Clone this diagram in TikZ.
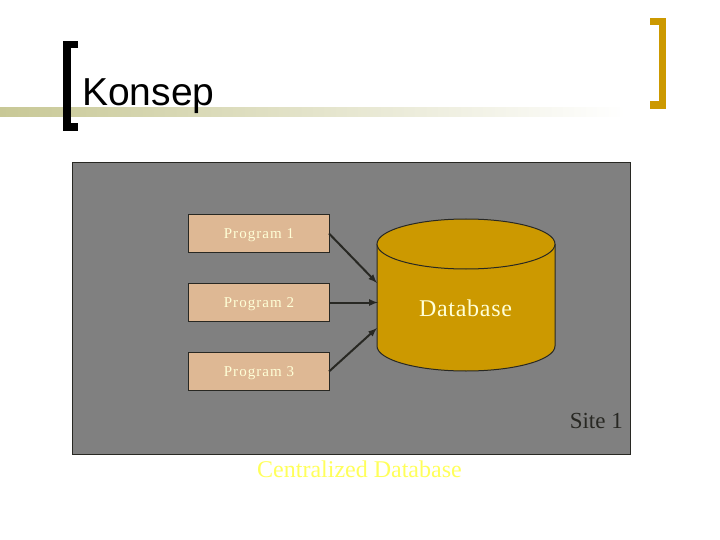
\documentclass[tikz,border=0pt]{standalone}
\usepackage{fontspec}
\setmainfont{Liberation Serif}
\newfontfamily\titlefont{Liberation Sans}
\newfontfamily\progfont[LetterSpace=7]{Liberation Serif}
\newfontfamily\dbfont[LetterSpace=3]{Liberation Serif}
\definecolor{sitegray}{RGB}{128,128,128}
\definecolor{progfill}{RGB}{222,184,148}
\definecolor{dbgold}{RGB}{204,153,0}
\definecolor{linedark}{RGB}{40,40,35}
\definecolor{bandolive}{RGB}{200,200,150}
\definecolor{labelcream}{RGB}{255,255,215}
\tikzstyle{block} = [draw=linedark, rectangle, fill=progfill, line width=1pt,
    minimum height=38pt, minimum width=141pt, inner sep=0pt, outer sep=0pt]
\tikzstyle{input} = [coordinate]
\tikzstyle{bracket} = [line width=7.5pt, line cap=butt, miter limit=10]
\tikzstyle{plabel} = [text=labelcream, font=\progfont\fontsize{15}{18}\selectfont, inner sep=0pt]
\tikzstyle{feed} = [->, draw=linedark, line width=2pt]
\tikzstyle{dbpart} = [draw=linedark, fill=dbgold, line width=1pt]

\begin{document}
\begin{tikzpicture}[x=1pt, y=-1pt, node distance=69pt, >=latex]
    \useasboundingbox (0,0) rectangle (720,540);
    \shade [left color=bandolive, right color=white] (0,108) rectangle (625,117);
    \draw [bracket, black] (78,44.75) -- (67,44.75) -- (67,127.25) -- (78,127.25);
    \draw [bracket, dbgold] (650,21.75) -- (662.25,21.75) -- (662.25,105.25) -- (650,105.25);
    \node [anchor=base west, inner sep=0pt, font=\titlefont\fontsize{39}{44}\selectfont] (title) at (82,106) {Konsep};

    \node [draw=linedark, fill=sitegray, line width=1pt, rectangle, minimum width=558.5pt, minimum height=291.5pt, anchor=north west, inner sep=0pt, outer sep=0pt] (site) at (72,162.5) {};

    \node [block, anchor=north west] (prog1) at (188,214.5) {};
    \node [block, below of=prog1] (prog2) {};
    \node [block, below of=prog2] (prog3) {};
    \node [plabel] (lab1) at (259,235) {Program 1};
    \node [plabel] (lab2) at (259,304) {Program 2};
    \node [plabel] (lab3) at (259,373) {Program 3};

    % database drum
    \draw [dbpart] (377,244) -- (377,346) arc [start angle=180, end angle=360, x radius=89pt, y radius=25pt] -- (555,244);
    \draw [dbpart] (466,244) ellipse [x radius=89pt, y radius=25pt];
    \node [text=labelcream, inner sep=0pt, font=\dbfont\fontsize{24}{28}\selectfont] (dblabel) at (465.5,308) {Database};

    \node [input, name=in1] at (377,283) {};
    \node [input, name=in2] at (378,302.5) {};
    \node [input, name=in3] at (377,328) {};

    \draw [feed] (prog1.east) -- (in1);
    \draw [feed] (prog2.east) -- (in2);
    \draw [feed] (prog3.east) -- (in3);

    \node [anchor=base east, inner sep=0pt, text=linedark, font=\fontsize{23}{27}\selectfont] (sitelabel) at (623,428) {Site 1};
    \node [anchor=base west, inner sep=0pt, text={rgb,255:red,255;green,255;blue,90}, font=\fontsize{24}{28}\selectfont] (caption) at (257,477) {Centralized Database};
\end{tikzpicture}
\end{document}
